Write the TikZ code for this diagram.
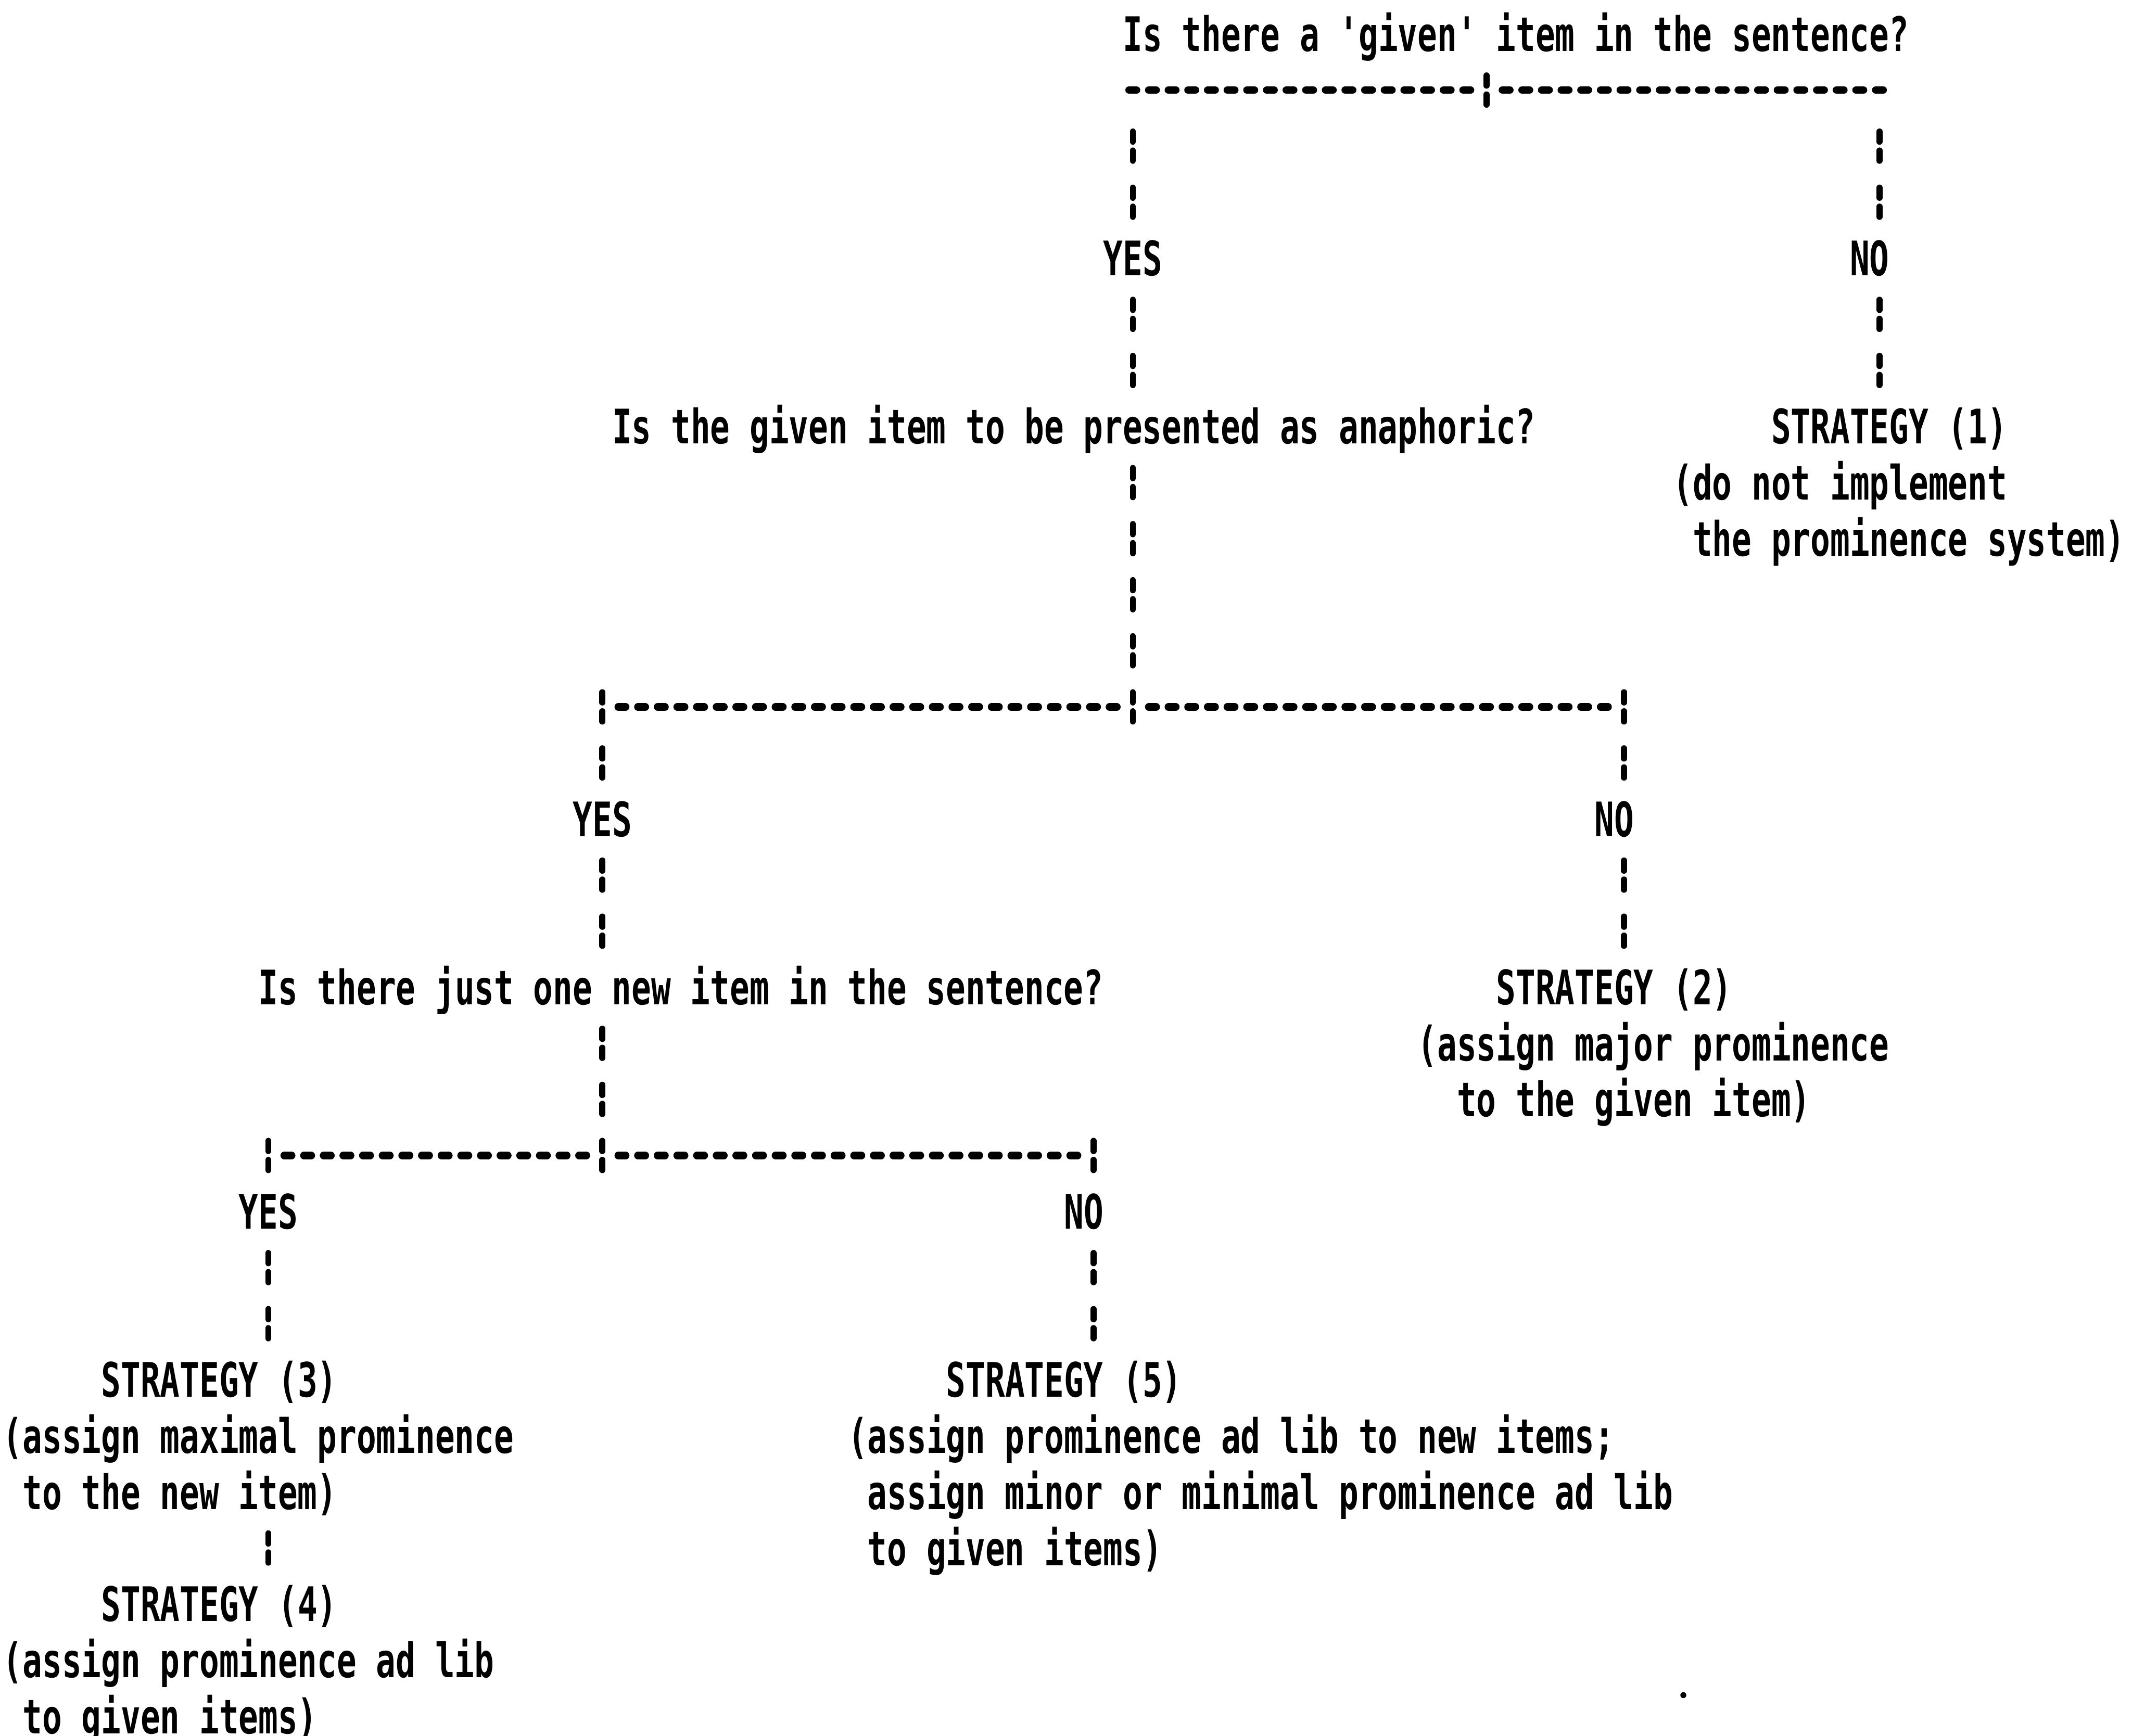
\documentclass[tikz,border=0pt]{standalone}
\usepackage{fontspec}
\newfontfamily\dotfont[FakeStretch=0.686,Ligatures=TeXOff]{DejaVu Sans Mono}
\tikzset{
  txt/.style={anchor=base west, inner sep=0pt, outer sep=0pt,
    font=\dotfont\bfseries\fontsize{34.98pt}{40pt}\selectfont},
  vbar/.style={line width=4.5pt, line cap=round,
    dash pattern=on 7.5pt off 6.5pt on 7.5pt off 19.75pt},
  hbar/.style={line width=5.5pt, line cap=round,
    dash pattern=on 5.5pt off 8.95pt}
}
% text line: name, column, row, text
\newcommand\mytext[4]{\node[txt] (#1) at ({2.275+14.45*#2},{25+41.25*#3+12.75}) {#4};}
% vertical run of broken bars: name, column, first row, last row
\newcommand\myV[4]{%
  \coordinate (#1s) at ({9.5+14.45*#2},{25+41.25*#3-10.75});
  \coordinate (#1e) at ({9.5+14.45*#2},{25+41.25*#4+10.75});
  \draw[vbar] (#1s) -- (#1e);}
% horizontal run of dashes: name, first column, last column, row
\newcommand\myH[4]{%
  \coordinate (#1s) at ({2.275+14.45*#2+4.45},{25+41.25*#4});
  \coordinate (#1e) at ({2.275+14.45*(#3+1)-4.5},{25+41.25*#4});
  \draw[hbar] (#1s) -- (#1e);}
\begin{document}
\begin{tikzpicture}[x=1pt,y=-1pt]
\fill[white] (0,0) rectangle (1568,1277);
\useasboundingbox (0,0) rectangle (1568,1277);

% texts
\mytext{q1}{57}{0}{Is there a 'given' item in the sentence?}
\mytext{yes1}{56}{4}{YES}
\mytext{no1}{94}{4}{NO}
\mytext{q2}{31}{7}{Is the given item to be presented as anaphoric?}
\mytext{s1}{90}{7}{STRATEGY (1)}
\mytext{s1a}{85}{8}{(do not implement}
\mytext{s1b}{86}{9}{the prominence system)}
\mytext{yes2}{29}{14}{YES}
\mytext{no2}{81}{14}{NO}
\mytext{q3}{13}{17}{Is there just one new item in the sentence?}
\mytext{s2}{76}{17}{STRATEGY (2)}
\mytext{s2a}{72}{18}{(assign major prominence}
\mytext{s2b}{74}{19}{to the given item)}
\mytext{yes3}{12}{21}{YES}
\mytext{no3}{54}{21}{NO}
\mytext{s3}{5}{24}{STRATEGY (3)}
\mytext{s3a}{0}{25}{(assign maximal prominence}
\mytext{s3b}{1}{26}{to the new item)}
\mytext{s4}{5}{28}{STRATEGY (4)}
\mytext{s4a}{0}{29}{(assign prominence ad lib}
\mytext{s4b}{1}{30}{to given items)}
\mytext{s5}{48}{24}{STRATEGY (5)}
\mytext{s5a}{43}{25}{(assign prominence ad lib to new items;}
\mytext{s5b}{44}{26}{assign minor or minimal prominence ad lib}
\mytext{s5c}{44}{27}{to given items)}

% first branching
\myV{va}{75}{1}{1}
\myH{ha}{57}{74}{1}
\myH{hb}{76}{95}{1}
\myV{vb}{57}{2}{3}
\myV{vc}{57}{5}{6}
\myV{vd}{95}{2}{3}
\myV{ve}{95}{5}{6}

% second branching
\myV{vf}{57}{8}{12}
\myH{hc}{31}{56}{12}
\myH{hd}{58}{81}{12}
\myV{vg}{30}{12}{13}
\myV{vh}{82}{12}{13}
\myV{vi}{30}{15}{16}
\myV{vj}{82}{15}{16}

% third branching
\myV{vk}{30}{18}{20}
\myH{he}{14}{29}{20}
\myH{hf}{31}{54}{20}
\myV{vl}{13}{20}{20}
\myV{vm}{55}{20}{20}
\myV{vn}{13}{22}{23}
\myV{vo}{55}{22}{23}
\myV{vp}{13}{27}{27}

% speck
\fill (1238,1247) circle (2.2);
\end{tikzpicture}
\end{document}
